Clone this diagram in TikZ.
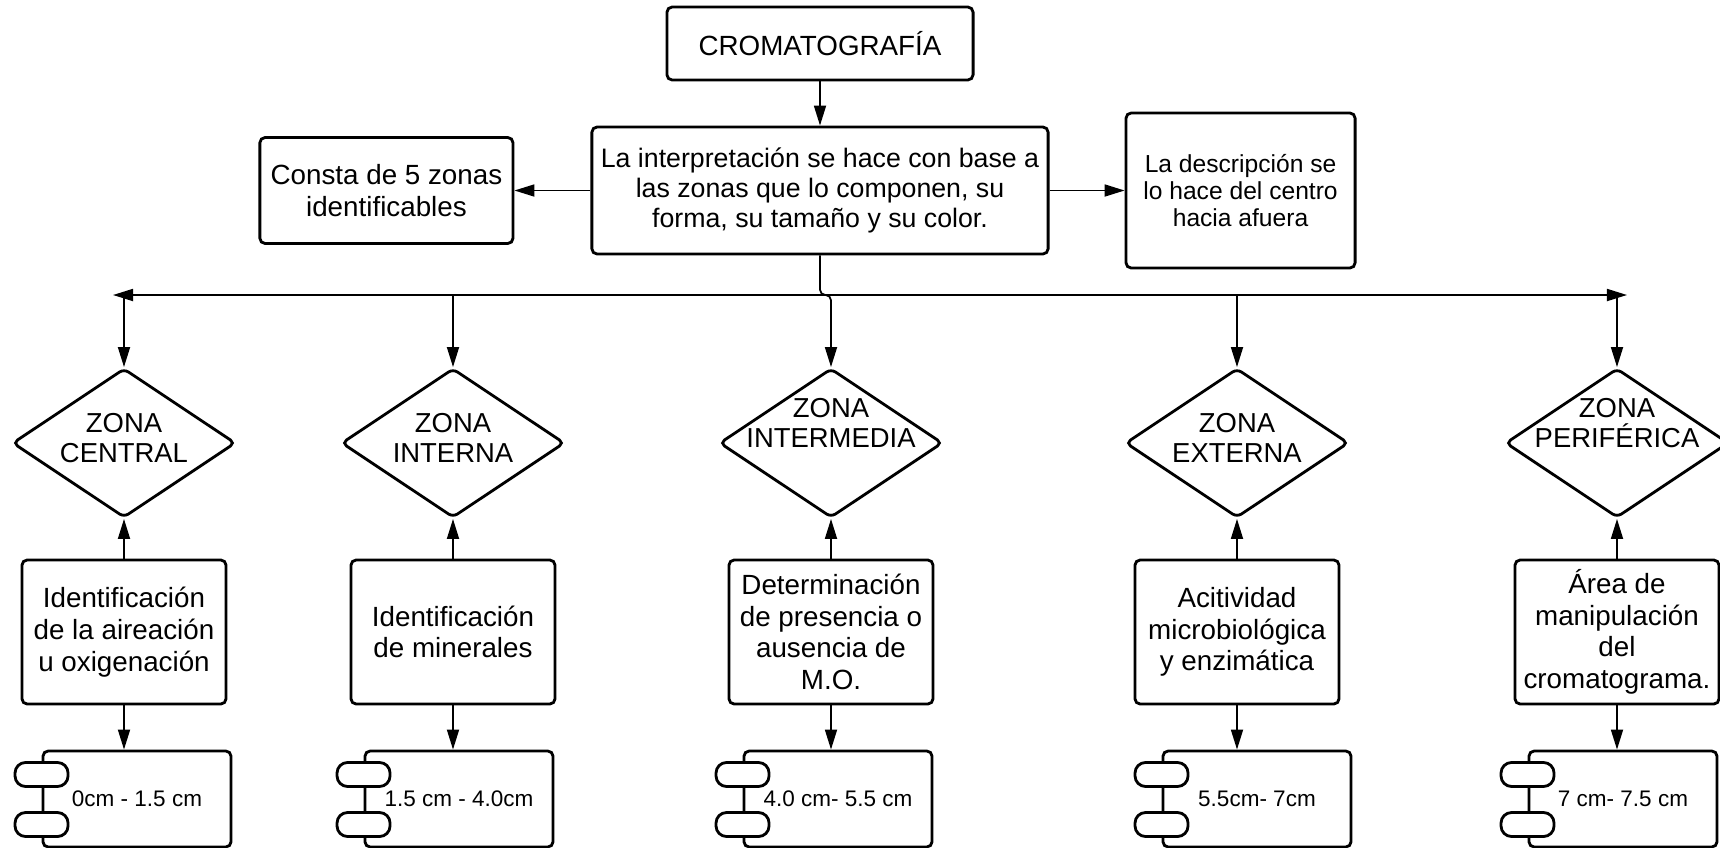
\documentclass[tikz,border=0pt]{standalone}
\usepackage{fontspec}
\setmainfont{Liberation Sans}
\usetikzlibrary{shapes.geometric, positioning, arrows.meta}

\begin{document}
\begin{tikzpicture}[
    x=0.01cm, y=-0.01cm,
    >={Triangle[length=0.2cm, width=0.12cm]},
    every node/.style={align=center, font=\fontsize{7.9}{9}\selectfont},
    box/.style={draw, line width=0.8pt, rounded corners=1.5pt, inner sep=2pt},
    zona/.style={draw, diamond, line width=0.8pt, rounded corners=1.5pt, inner sep=0pt,
        minimum width=2.23cm, minimum height=1.49cm},
    zonatxt/.style={font=\fontsize{7.8}{8.6}\selectfont, inner sep=0pt},
    rango/.style={draw, line width=0.8pt, rounded corners=1.5pt, minimum width=1.88cm,
        minimum height=0.96cm, font=\fontsize{6.4}{7.5}\selectfont},
    pestana/.style={draw, fill=white, line width=0.8pt, rounded corners=3pt,
        minimum width=0.53cm, minimum height=0.24cm, inner sep=0pt},
    arrow/.style={->, line width=0.5pt}
]
\useasboundingbox (0,0) rectangle (1720,848);

% Oben
\node[box, minimum width=3.06cm, minimum height=0.73cm] (crom) at (820,43.5) {CROMATOGRAF\'IA};
\node[box, minimum width=4.56cm, minimum height=1.27cm, font=\fontsize{7.6}{8.5}\selectfont] (interp) at (820,190.5) {
    La interpretación se hace con base a\\
    las zonas que lo componen, su\\
    forma, su tamaño y su color.
};
\draw[arrow] (crom) -- (interp);

% links und rechts
\node[box, minimum width=2.53cm, minimum height=1.06cm, left=0.76cm of interp] (consta) {
    Consta de 5 zonas\\
    identificables
};
\draw[arrow] (interp) -- (consta);

\node[box, minimum width=2.29cm, minimum height=1.55cm, right=0.75cm of interp,
    font=\fontsize{7}{7.6}\selectfont] (desc) {
    La descripción se\\
    lo hace del centro\\
    hacia afuera
};
\draw[arrow] (interp) -- (desc);

% Verteiler
\coordinate (hl) at (113,295);
\coordinate (hr) at (1627,295);
\draw[<->, line width=0.5pt] (hl) -- (hr);

% Zonen
\node[zona] (d1) at (124,443) {};
\node[zona] (d2) at (453,443) {};
\node[zona] (d3) at (831,443) {};
\node[zona] (d4) at (1237,443) {};
\node[zona] (d5) at (1617,443) {};
\node[zonatxt, yshift=0.05cm] (z1) at (d1) {ZONA\\CENTRAL};
\node[zonatxt, yshift=0.05cm] (z2) at (d2) {ZONA\\INTERNA};
\node[zonatxt, yshift=0.2cm] (z3) at (d3) {ZONA\\INTERMEDIA};
\node[zonatxt, yshift=0.05cm] (z4) at (d4) {ZONA\\EXTERNA};
\node[zonatxt, yshift=0.2cm] (z5) at (d5) {ZONA\\PERIF\'ERICA};

\draw[arrow] (d1.north |- hl) -- (d1.north);
\draw[arrow] (d2.north |- hl) -- (d2.north);
\draw[arrow, rounded corners=1.5pt] (interp.south) -- (interp.south |- hl)
    -- (d3.north |- hl) -- (d3.north);
\draw[arrow] (d4.north |- hl) -- (d4.north);
\draw[arrow] (d5.north |- hl) -- (d5.north);

% Beschreibungen
\node[box, minimum width=2.04cm, minimum height=1.44cm] (b1) at (124,632) {
    Identificación\\
    de la aireación\\
    u oxigenación
};
\node[box, minimum width=2.04cm, minimum height=1.44cm] (b2) at (453,632) {
    Identificación\\
    de minerales
};
\node[box, minimum width=2.04cm, minimum height=1.44cm] (b3) at (831,632) {
    Determinación\\
    de presencia o\\
    ausencia de\\
    M.O.
};
\node[box, minimum width=2.04cm, minimum height=1.44cm] (b4) at (1237,632) {
    Acitividad\\
    microbiológica\\
    y enzimática
};
\node[box, minimum width=2.04cm, minimum height=1.44cm] (b5) at (1617,632) {
    Área de\\
    manipulación\\
    del\\
    cromatograma.
};
\draw[arrow] (b1.north) -- (d1.south);
\draw[arrow] (b2.north) -- (d2.south);
\draw[arrow] (b3.north) -- (d3.south);
\draw[arrow] (b4.north) -- (d4.south);
\draw[arrow] (b5.north) -- (d5.south);

% Bereiche (Komponenten)
\node[rango] (c1) at (137,799) {0cm - 1.5 cm};
\node[rango] (c2) at (459,799) {1.5 cm - 4.0cm};
\node[rango] (c3) at (838,799) {4.0 cm- 5.5 cm};
\node[rango] (c4) at (1257,799) {5.5cm- 7cm};
\node[rango] (c5) at (1623,799) {7 cm- 7.5 cm};

\node[pestana, yshift=0.245cm] (p1a) at (c1.west) {};
\node[pestana, yshift=-0.255cm] (p1b) at (c1.west) {};
\node[pestana, yshift=0.245cm] (p2a) at (c2.west) {};
\node[pestana, yshift=-0.255cm] (p2b) at (c2.west) {};
\node[pestana, yshift=0.245cm] (p3a) at (c3.west) {};
\node[pestana, yshift=-0.255cm] (p3b) at (c3.west) {};
\node[pestana, yshift=0.245cm] (p4a) at (c4.west) {};
\node[pestana, yshift=-0.255cm] (p4b) at (c4.west) {};
\node[pestana, yshift=0.245cm] (p5a) at (c5.west) {};
\node[pestana, yshift=-0.255cm] (p5b) at (c5.west) {};

\draw[arrow] (b1.south) -- (b1.south |- c1.north);
\draw[arrow] (b2.south) -- (b2.south |- c2.north);
\draw[arrow] (b3.south) -- (b3.south |- c3.north);
\draw[arrow] (b4.south) -- (b4.south |- c4.north);
\draw[arrow] (b5.south) -- (b5.south |- c5.north);

\end{tikzpicture}
\end{document}
